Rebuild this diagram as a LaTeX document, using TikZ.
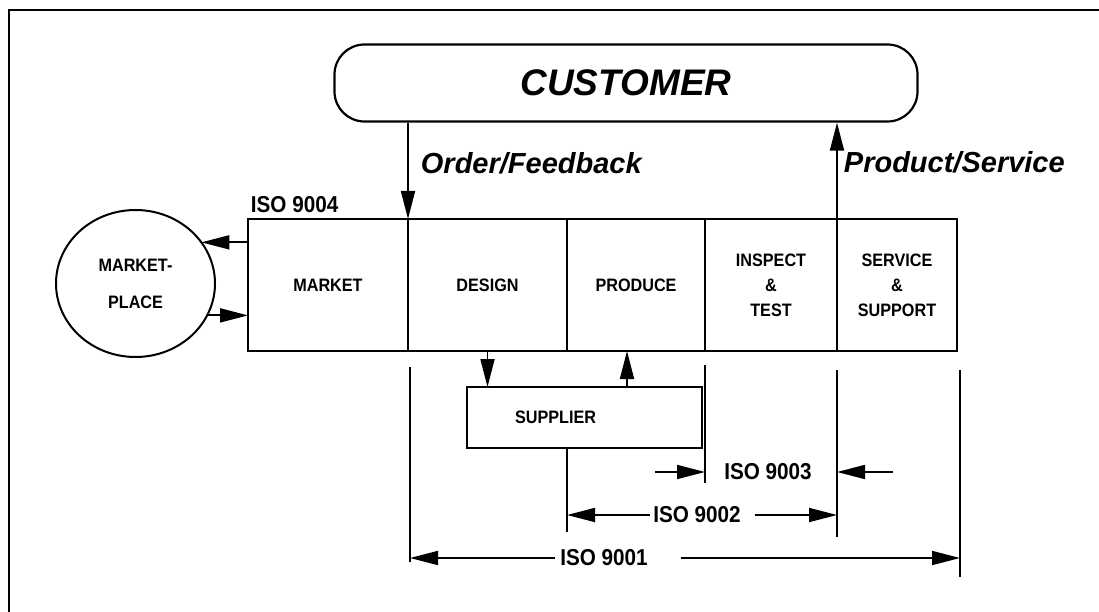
\documentclass[tikz,border=0pt]{standalone}
\usepackage{fontspec}
\setmainfont{Liberation Sans}
\newfontfamily\condfont{Liberation Sans}[FakeStretch=0.9]
\usepackage{tikz}
\usetikzlibrary{arrows.meta, positioning, shapes.geometric}

\begin{document}
\begin{tikzpicture}[x=1pt, y=-1pt, line width=1.8pt,
  box/.style={draw, outer sep=0pt, inner sep=0pt, align=center,
    font=\condfont\bfseries\fontsize{18}{25}\selectfont},
  flow/.style={-{Triangle[length=28pt, width=14pt]}},
  iso/.style={inner sep=2pt, font=\condfont\bfseries\fontsize{23}{23}\selectfont},
  slogan/.style={anchor=west, inner sep=0pt, font=\bfseries\itshape\fontsize{29}{29}\selectfont},
  ext/.style={line width=1.3pt}]
  \useasboundingbox (0,0) rectangle (1099,612);
  \draw[line width=2.5pt] (9,612) -- (9,10) -- (1099,10);

  \node[draw, rounded corners=30pt, line width=2.2pt, minimum width=583pt, minimum height=77pt,
    font=\bfseries\itshape\fontsize{37}{37}\selectfont] (customer) at (626,83) {CUSTOMER};

  % process chain
  \foreach \nm/\xl/\xr/\txt in {market/248/408/MARKET, design/408/567/DESIGN,
      produce/567/705/PRODUCE, inspect/705/837/{INSPECT\\\&\\TEST},
      service/837/957/{SERVICE\\\&\\SUPPORT}}
    \node[box, minimum width=(\xr-\xl)*1pt, minimum height=132pt] (\nm) at ({(\xl+\xr)/2},285) {\txt};

  \node[box, ellipse, line width=2pt, minimum width=159pt, minimum height=147pt,
    font=\condfont\bfseries\fontsize{18}{37}\selectfont] (marketplace) at (135.5,283.5) {MARKET-\\PLACE};
  \node[box, minimum width=235pt, minimum height=61pt, text width=139pt, inner xsep=48pt,
    align=left] (supplier) at (584.5,417.5) {SUPPLIER};

  \node[slogan] (order) at (420,163) {Order/Feedback};
  \node[slogan] (product) at (843,162) {Product/Service};
  \node[iso, anchor=west] (iso9004) at (248,205) {ISO 9004};

  \draw[flow] (customer.south -| design.north west) -- (design.north west);
  \draw[flow] (service.north west) -- (service.north west |- customer.south);
  \draw[flow] (market.west |- marketplace.32) -- (marketplace.32);
  \draw[flow] (marketplace.-24.5) -- (market.west |- marketplace.-24.5);
  \draw[flow] (design.south) -- (design.south |- supplier.north);
  \draw[flow] ([xshift=-9pt]produce.south |- supplier.north) -- ([xshift=-9pt]produce.south);

  % scope of the standards
  \coordinate (d1) at (410,367);
  \coordinate (d2) at (567,449);
  \coordinate (d3) at (705,365);
  \coordinate (d4) at (837,370);
  \coordinate (d5) at (960,370);
  \draw[ext] (d1) -- ++(0,195);
  \draw[ext] (d2) -- ++(0,83);
  \draw[ext] (d3) -- ++(0,118);
  \draw[ext] (d4) -- ++(0,167);
  \draw[ext] (d5) -- ++(0,207);

  \node[iso] (iso9003) at (768,472) {ISO 9003};
  \node[iso] (iso9002) at (697,515) {ISO 9002};
  \node[iso] (iso9001) at (604,558) {ISO 9001};

  \draw[flow] ([xshift=-50pt]d3 |- iso9003) -- (d3 |- iso9003);
  \draw[flow] ([xshift=56pt]d4 |- iso9003) -- (d4 |- iso9003);
  \draw[flow] (iso9002.west) -- (d2 |- iso9002.west);
  \draw[flow] ([xshift=11pt]iso9002.east) -- (d4 |- iso9002.east);
  \draw[flow] ([xshift=-2pt]iso9001.west) -- (d1 |- iso9001.west);
  \draw[flow] ([xshift=30pt]iso9001.east) -- (d5 |- iso9001.east);
\end{tikzpicture}
\end{document}
